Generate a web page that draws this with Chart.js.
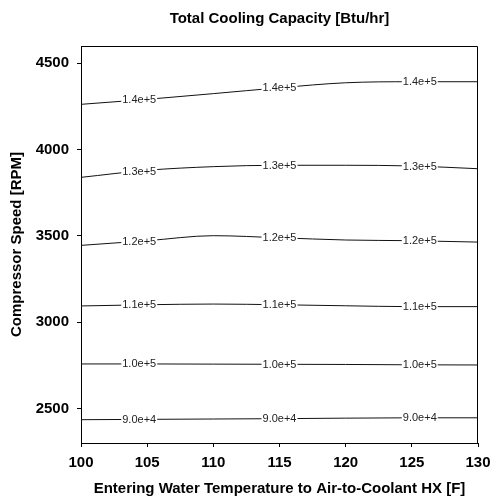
<!DOCTYPE html>
<html>
<head>
<meta charset="utf-8">
<script src="https://cdn.jsdelivr.net/npm/chart.js@4"></script>
<style>
  html, body { margin: 0; padding: 0; background: #fff; }
  #wrap { width: 490px; height: 500px; }
</style>
</head>
<body>
<div id="wrap"><canvas id="chart" width="490" height="500"></canvas></div>
<script>
// entering water temperature [F]
const temps = [100, 105, 110, 115, 120, 125, 130];

// compressor speed [RPM] along each contour
const levels = ['9.0e+4', '1.0e+5', '1.1e+5', '1.2e+5', '1.3e+5', '1.4e+5'];
const rpm90k  = [2435, 2437, 2439, 2441, 2444, 2446, 2446];
const rpm100k = [2758, 2758, 2757, 2756, 2755, 2753, 2752];
const rpm110k = [3094, 3101, 3105, 3101, 3095, 3090, 3090];
const rpm120k = [3445, 3472, 3501, 3489, 3476, 3472, 3464];
const rpm130k = [3839, 3880, 3901, 3909, 3909, 3905, 3889];
const rpm140k = [4262, 4291, 4324, 4358, 4387, 4393, 4393];
const contours = [rpm90k, rpm100k, rpm110k, rpm120k, rpm130k, rpm140k];

// where the inline contour labels sit along x
const labelAt = [104.4, 115.0, 125.6];

const xTicks = [100, 105, 110, 115, 120, 125, 130];
const yTicks = [2500, 3000, 3500, 4000, 4500];

const FONT = "'Liberation Sans', Arial, sans-serif";

const datasets = contours.map((vals, i) => ({
    label: levels[i],
    data: temps.map((t, j) => ({ x: t, y: vals[j] })),
    showLine: true,
    borderColor: '#111',
    borderWidth: 1,
    pointRadius: 0,
    cubicInterpolationMode: 'monotone'
}));

// frame, title and contour labels
const extras = {
    id: 'extras',
    afterDatasetsDraw(chart) {
        const { ctx, chartArea: a, scales: { x, y } } = chart;
        ctx.save();
        ctx.font = '11px ' + FONT;
        ctx.textAlign = 'center';
        ctx.textBaseline = 'middle';
        contours.forEach((vals, i) => {
            labelAt.forEach(lx => {
                let k = 0;
                while (k < temps.length - 2 && temps[k + 1] < lx) k++;
                const f = (lx - temps[k]) / (temps[k + 1] - temps[k]);
                const v = vals[k] + f * (vals[k + 1] - vals[k]);
                const px = x.getPixelForValue(lx);
                const py = y.getPixelForValue(v);
                const w = ctx.measureText(levels[i]).width + 2;
                ctx.fillStyle = '#fff';
                ctx.fillRect(px - w / 2, py - 4, w, 8);
                ctx.fillStyle = '#222';
                ctx.fillText(levels[i], px, py + 0.5);
            });
        });
        // top and right edges of the frame
        ctx.strokeStyle = '#000';
        ctx.lineWidth = 1;
        ctx.beginPath();
        ctx.moveTo(a.left, a.top + 0.5);
        ctx.lineTo(a.right - 0.5, a.top + 0.5);
        ctx.lineTo(a.right - 0.5, a.bottom);
        ctx.stroke();
        ctx.fillStyle = '#000';
        ctx.font = 'bold 15px ' + FONT;
        ctx.fillText('Total Cooling Capacity [Btu/hr]', (a.left + a.right) / 2, 19);
        ctx.restore();
    }
};

new Chart(document.querySelector('#chart').getContext('2d'), {
    type: 'scatter',
    data: { datasets },
    options: {
        responsive: false,
        animation: false,
        layout: { padding: { top: 46, right: 0, left: 0, bottom: 0 } },
        plugins: { legend: { display: false }, tooltip: { enabled: false } },
        scales: {
            x: {
                type: 'linear',
                min: 100,
                max: 130,
                afterBuildTicks: s => { s.ticks = xTicks.map(v => ({ value: v })); },
                afterFit: s => { s.height = 57; s.paddingLeft = 0; s.paddingRight = 12; },
                grid: { drawOnChartArea: false, drawTicks: true, tickLength: 4, color: '#000' },
                border: { display: true, color: '#000' },
                ticks: {
                    color: '#000', padding: 7, maxRotation: 0,
                    font: { family: FONT, size: 15, weight: 'bold' },
                    callback: v => String(v)
                },
                title: {
                    display: true,
                    text: 'Entering Water Temperature to Air-to-Coolant HX [F]',
                    color: '#000',
                    padding: { top: 0, bottom: 2 },
                    font: { family: FONT, size: 15, weight: 'bold' }
                }
            },
            y: {
                type: 'linear',
                min: 2300,
                max: 4600,
                afterBuildTicks: s => { s.ticks = yTicks.map(v => ({ value: v })); },
                afterFit: s => { s.width = 81; s.paddingTop = 0; s.paddingBottom = 0; },
                grid: { drawOnChartArea: false, drawTicks: true, tickLength: 4, color: '#000' },
                border: { display: true, color: '#000' },
                ticks: {
                    color: '#000', padding: 8,
                    font: { family: FONT, size: 15, weight: 'bold' },
                    callback: v => String(v)
                },
                title: {
                    display: true,
                    text: 'Compressor Speed [RPM]',
                    color: '#000',
                    padding: { top: 8, bottom: 0 },
                    font: { family: FONT, size: 15, weight: 'bold' }
                }
            }
        }
    },
    plugins: [extras]
});
</script>
</body>
</html>
